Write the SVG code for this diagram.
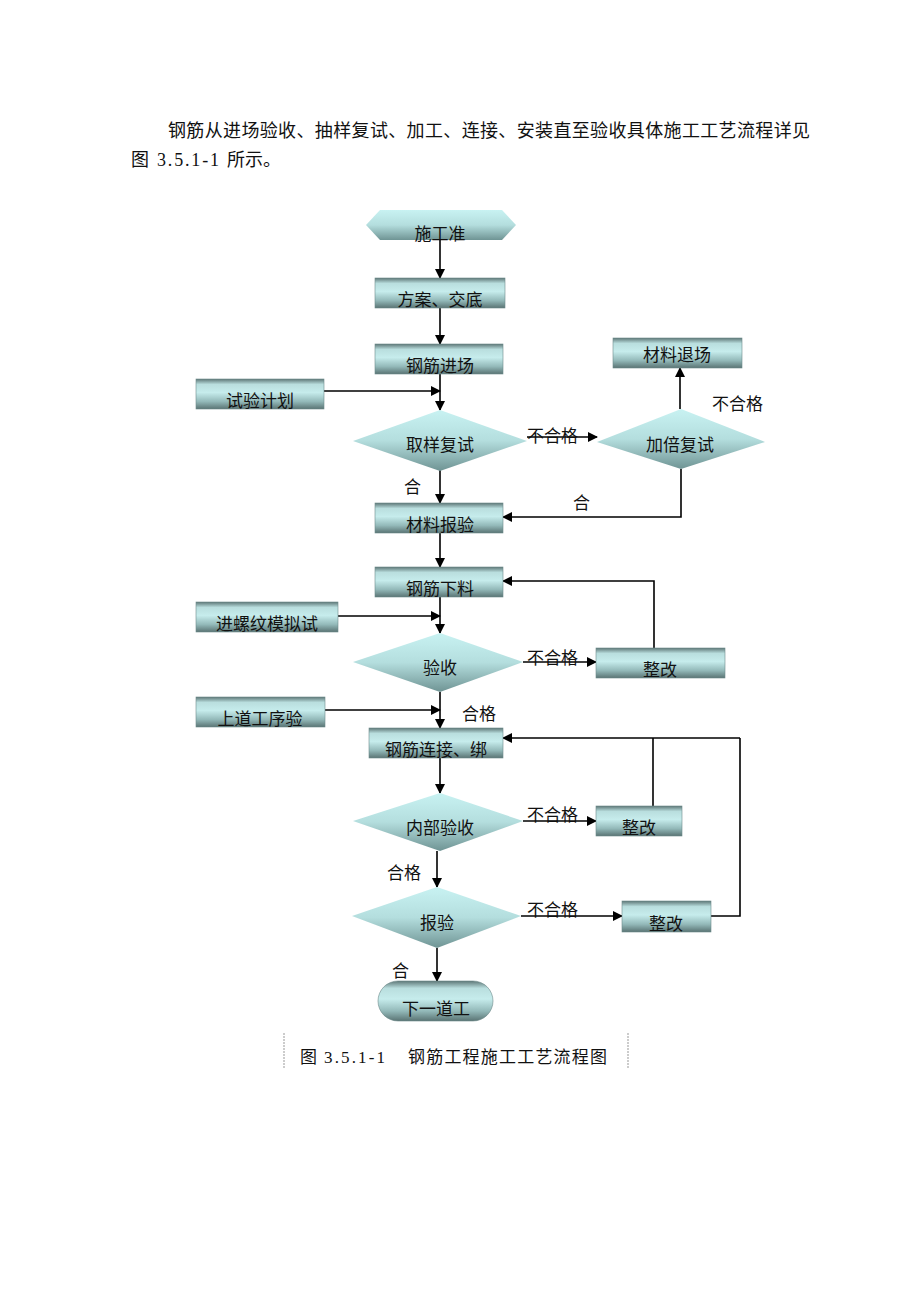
<svg xmlns="http://www.w3.org/2000/svg" width="920" height="1302" viewBox="0 0 920 1302">
<style>
text{font-family:"Liberation Serif","Noto Sans CJK SC",serif;fill:#111}
.t{font-size:17px;text-anchor:middle}
.l{font-size:17px}
.box{fill:url(#cyl);stroke:#6d8a8a;stroke-width:0.6}
.dia{fill:url(#dg)}
.c{stroke:#000;stroke-width:1.6;fill:none}
.cn{stroke:#000;stroke-width:1.6;fill:none;marker-end:url(#ah)}
</style>
<defs>
<linearGradient id="cyl" x1="0" y1="0" x2="0" y2="1">
<stop offset="0" stop-color="#5e7777"/>
<stop offset="0.18" stop-color="#b9dede"/>
<stop offset="0.45" stop-color="#c6ecec"/>
<stop offset="0.75" stop-color="#93b9b9"/>
<stop offset="1" stop-color="#5a7474"/>
</linearGradient>
<linearGradient id="dg" x1="0" y1="0" x2="0" y2="1">
<stop offset="0" stop-color="#c8f2f2"/>
<stop offset="0.5" stop-color="#b4dede"/>
<stop offset="1" stop-color="#6f9494"/>
</linearGradient>
<marker id="ah" markerWidth="10" markerHeight="10" refX="9" refY="5" orient="auto" markerUnits="userSpaceOnUse">
<path d="M0,0 L10,5 L0,10 z" fill="#000"/>
</marker>
</defs>

<text x="168" y="137" font-size="18" textLength="642" lengthAdjust="spacing">钢筋从进场验收、抽样复试、加工、连接、安装直至验收具体施工工艺流程详见</text>
<text x="131" y="166" font-size="18">图</text>
<text x="157" y="166" font-size="18" textLength="62" lengthAdjust="spacing">3.5.1-1</text>
<text x="227" y="166" font-size="18">所示。</text>

<g id="connectors">
<line class="cn" x1="440" y1="240" x2="440" y2="278"/>
<line class="cn" x1="440" y1="308" x2="440" y2="344"/>
<line class="cn" x1="440" y1="374" x2="440" y2="410"/>
<line class="cn" x1="324" y1="391" x2="440" y2="391"/>
<line class="cn" x1="527" y1="437" x2="597" y2="437"/>
<line class="cn" x1="680" y1="409" x2="680" y2="368"/>
<polyline class="cn" points="681,469 681,517 503,517"/>
<line class="cn" x1="440" y1="470" x2="440" y2="503"/>
<line class="cn" x1="440" y1="533" x2="440" y2="567"/>
<line class="cn" x1="338" y1="616" x2="440" y2="616"/>
<line class="cn" x1="440" y1="597" x2="440" y2="633"/>
<line class="cn" x1="523" y1="662" x2="596" y2="662"/>
<polyline class="cn" points="654,648 654,581 503,581"/>
<line class="cn" x1="325" y1="710" x2="440" y2="710"/>
<line class="cn" x1="440" y1="692" x2="440" y2="728"/>
<polyline class="cn" points="740,738 503,738"/>
<line class="c" x1="653" y1="738" x2="653" y2="806" stroke-width="1"/>
<polyline class="c" points="711,916 740,916 740,738"/>
<line class="cn" x1="440" y1="758" x2="440" y2="793"/>
<line class="cn" x1="523" y1="821" x2="596" y2="821"/>
<line class="cn" x1="437" y1="851" x2="437" y2="887"/>
<line class="cn" x1="521" y1="916" x2="622" y2="916"/>
<line class="cn" x1="437" y1="948" x2="437" y2="981"/>
<text class="l" x="527" y="442">不合格</text>
<text class="l" x="712" y="410">不合格</text>
<text class="l" x="573" y="509">合</text>
<text class="l" x="404" y="493">合</text>
<text class="l" x="527" y="664">不合格</text>
<text class="l" x="462" y="720">合格</text>
<text class="l" x="527" y="821">不合格</text>
<text class="l" x="387" y="879">合格</text>
<text class="l" x="527" y="916">不合格</text>
<text class="l" x="392" y="977">合</text>
</g>

<g id="n1"><polygon class="dia" points="366,225 380,210 502,210 516,225 502,240 380,240"/><text class="t" x="440" y="240">施工准</text></g>
<g id="n2"><rect class="box" x="375" y="278" width="130" height="30"/><text class="t" x="440" y="306">方案、交底</text></g>
<g id="n3"><rect class="box" x="375" y="344" width="128" height="30"/><text class="t" x="440" y="372">钢筋进场</text></g>
<g id="n4"><rect class="box" x="196" y="379" width="128" height="30"/><text class="t" x="260" y="407">试验计划</text></g>
<g id="n5"><polygon class="dia" points="353,441 440,410 527,441 440,471"/><text class="t" x="440" y="451">取样复试</text></g>
<g id="n6"><polygon class="dia" points="597,442 681,409 765,442 681,469"/><text class="t" x="680" y="451">加倍复试</text></g>
<g id="n7"><rect class="box" x="613" y="338" width="129" height="30"/><text class="t" x="677" y="361">材料退场</text></g>
<g id="n8"><rect class="box" x="375" y="503" width="128" height="30"/><text class="t" x="440" y="531">材料报验</text></g>
<g id="n9"><rect class="box" x="375" y="567" width="128" height="30"/><text class="t" x="440" y="595">钢筋下料</text></g>
<g id="n10"><rect class="box" x="196" y="602" width="142" height="30"/><text class="t" x="267" y="630">进螺纹模拟试</text></g>
<g id="n11"><polygon class="dia" points="353,662 440,633 523,662 440,692"/><text class="t" x="440" y="674">验收</text></g>
<g id="n12"><rect class="box" x="596" y="648" width="129" height="30"/><text class="t" x="660" y="676">整改</text></g>
<g id="n13"><rect class="box" x="196" y="697" width="129" height="30"/><text class="t" x="260" y="725">上道工序验</text></g>
<g id="n14"><rect class="box" x="369" y="728" width="134" height="30"/><text class="t" x="436" y="756">钢筋连接、绑</text></g>
<g id="n15"><polygon class="dia" points="353,821 440,793 523,821 440,851"/><text class="t" x="440" y="834">内部验收</text></g>
<g id="n16"><rect class="box" x="596" y="806" width="86" height="30"/><text class="t" x="639" y="834">整改</text></g>
<g id="n17"><polygon class="dia" points="352,916 437,887 521,916 437,948"/><text class="t" x="437" y="929">报验</text></g>
<g id="n18"><rect class="box" x="622" y="901" width="89" height="31"/><text class="t" x="666" y="930">整改</text></g>
<g id="n19"><rect class="box" x="378" y="981" width="115" height="40" rx="20"/><text class="t" x="436" y="1015">下一道工</text></g>

<g id="caption">
<line x1="284" y1="1033" x2="284" y2="1068" stroke="#999" stroke-width="1" stroke-dasharray="2,1"/>
<line x1="628" y1="1033" x2="628" y2="1068" stroke="#999" stroke-width="1" stroke-dasharray="2,1"/>
<text x="300" y="1063" font-size="17">图</text>
<text x="324" y="1063" font-size="17" textLength="61" lengthAdjust="spacing">3.5.1-1</text>
<text x="408" y="1063" font-size="17" textLength="199" lengthAdjust="spacing">钢筋工程施工工艺流程图</text>
</g>
</svg>
